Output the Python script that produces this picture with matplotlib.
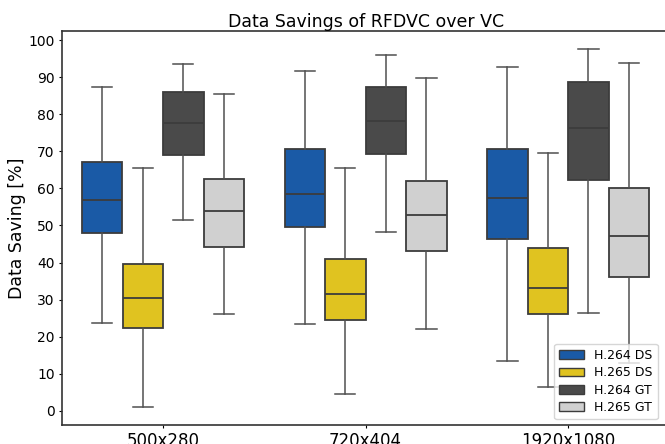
import matplotlib
matplotlib.use('Agg')
from matplotlib import pyplot as plt
from matplotlib.patches import Patch

# data (whisker low, Q1, median, Q3, whisker high)
resolutions = ['500x280', '720x404', '1920x1080']
series = ['H.264 DS', 'H.265 DS', 'H.264 GT', 'H.265 GT']
colors = ['#1a5aa6', '#e0c320', '#4a4a4a', '#d0d0d0']

whislo = {
    'H.264 DS': [23.8, 23.3, 13.4],
    'H.265 DS': [1.0, 4.4, 6.3],
    'H.264 GT': [51.4, 48.3, 26.5],
    'H.265 GT': [26.0, 22.1, 13.0],
}
q1 = {
    'H.264 DS': [47.9, 49.5, 46.4],
    'H.265 DS': [22.3, 24.4, 26.2],
    'H.264 GT': [68.9, 69.4, 62.2],
    'H.265 GT': [44.1, 43.1, 36.1],
}
med = {
    'H.264 DS': [56.8, 58.6, 57.3],
    'H.265 DS': [30.4, 31.4, 33.2],
    'H.264 GT': [77.6, 78.2, 76.4],
    'H.265 GT': [53.8, 52.7, 47.1],
}
q3 = {
    'H.264 DS': [67.2, 70.7, 70.7],
    'H.265 DS': [39.6, 41.0, 43.8],
    'H.264 GT': [86.0, 87.3, 88.8],
    'H.265 GT': [62.6, 62.0, 60.2],
}
whishi = {
    'H.264 DS': [87.5, 91.6, 92.7],
    'H.265 DS': [65.4, 65.6, 69.5],
    'H.264 GT': [93.6, 96.0, 97.6],
    'H.265 GT': [85.6, 89.9, 93.9],
}

line_col = '#3c3c3c'
fig = plt.figure(figsize=(6.65, 4.44), dpi=100)
ax = fig.add_axes([0.0928, 0.0428, 0.914, 0.887])

width = 0.2
for j, s in enumerate(series):
    stats = []
    for i in range(len(resolutions)):
        stats.append(dict(whislo=whislo[s][i], q1=q1[s][i], med=med[s][i],
                          q3=q3[s][i], whishi=whishi[s][i], fliers=[]))
    pos = [i - 0.3 + j * width for i in range(len(resolutions))]
    ax.bxp(stats, positions=pos, widths=width * 0.999, patch_artist=True,
           showfliers=False, manage_ticks=False,
           boxprops=dict(facecolor=colors[j], edgecolor=line_col, linewidth=1.3),
           medianprops=dict(color=line_col, linewidth=1.3),
           whiskerprops=dict(color='#505050', linewidth=1.1),
           capprops=dict(color='#505050', linewidth=1.1))

ax.set_xlim(-0.5, 2.5)
ax.set_ylim(-3.83, 102.43)
ax.set_xticks(range(len(resolutions)))
ax.set_xticklabels(resolutions)
ax.set_yticks(range(0, 101, 10))
ax.tick_params(axis='both', length=2.5, pad=2.5)
ax.tick_params(axis='x', labelsize=12)
ax.tick_params(axis='y', labelsize=10)
for sp in ax.spines.values():
    sp.set_linewidth(1.2)
    sp.set_color('#333333')

ax.set_title("Data Savings of RFDVC over VC", fontsize=12.5, pad=3)
ax.set_ylabel("Data Saving [%]", fontsize=12.5, labelpad=2)

handles = [Patch(facecolor=c, edgecolor=line_col, label=s) for c, s in zip(colors, series)]
ax.legend(handles=handles, loc='lower right', fontsize=9, labelspacing=0.35,
          borderaxespad=0, bbox_to_anchor=(0.981, 0.0152))

plt.savefig("out.png", dpi=100)
